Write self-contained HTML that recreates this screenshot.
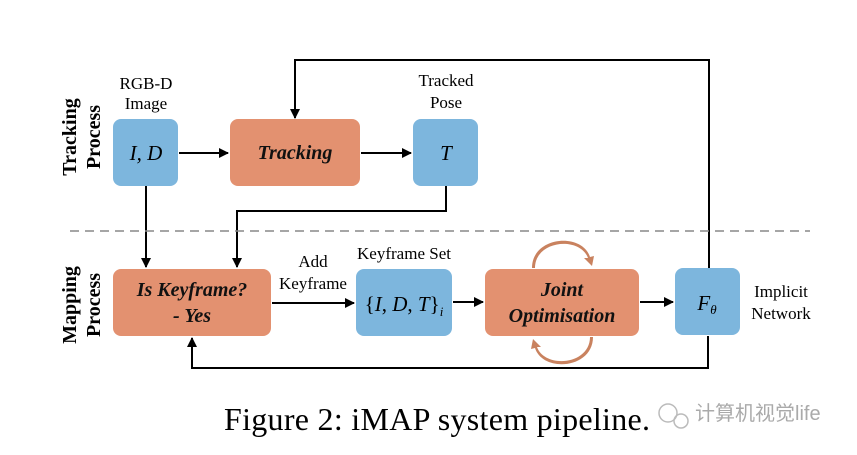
<!DOCTYPE html>
<html><head><style>
body{margin:0;background:#fff;}
svg text{font-family:"Liberation Serif",serif;}
</style></head><body>
<svg width="857" height="450" viewBox="0 0 857 450" xmlns="http://www.w3.org/2000/svg">
<defs>
<marker id="a" markerWidth="10" markerHeight="10" refX="9" refY="5" orient="auto" markerUnits="userSpaceOnUse">
<path d="M0,0 L10,5 L0,10 z" fill="#000"/></marker>
</defs>
<g stroke="#000" stroke-width="2" fill="none">
<line x1="179" y1="153" x2="228" y2="153" marker-end="url(#a)"/>
<line x1="361" y1="153" x2="411" y2="153" marker-end="url(#a)"/>
<polyline points="709,268 709,60 295,60 295,118" marker-end="url(#a)"/>
<line x1="146" y1="186" x2="146" y2="267" marker-end="url(#a)"/>
<polyline points="446,186 446,211 237,211 237,267" marker-end="url(#a)"/>
<line x1="272" y1="303" x2="354" y2="303" marker-end="url(#a)"/>
<line x1="453" y1="302" x2="483" y2="302" marker-end="url(#a)"/>
<line x1="640" y1="302" x2="673" y2="302" marker-end="url(#a)"/>
<polyline points="708,336 708,368 192,368 192,338" marker-end="url(#a)"/>
</g>
<line x1="70" y1="231" x2="810" y2="231" stroke="#888" stroke-width="1.5" stroke-dasharray="9,6"/>
<rect x="113" y="119" width="65" height="67" rx="8" fill="#7db6dd"/>
<rect x="230" y="119" width="130" height="67" rx="8" fill="#e39170"/>
<rect x="413" y="119" width="65" height="67" rx="8" fill="#7db6dd"/>
<rect x="113" y="269" width="158" height="67" rx="8" fill="#e39170"/>
<rect x="356" y="269" width="96" height="67" rx="8" fill="#7db6dd"/>
<rect x="485" y="269" width="154" height="67" rx="8" fill="#e39170"/>
<rect x="675" y="268" width="65" height="67" rx="8" fill="#7db6dd"/>
<path d="M535,268 C535,240 580,236 588,258 L584,258 L592,266 L594,256 L590,257 C582,232 532,236 532,268z" fill="#c9825f"/>
<path d="M590,337 C590,365 545,369 537,347 L541,347 L533,339 L531,349 L535,348 C543,373 593,369 593,337z" fill="#c9825f"/>
<g font-size="17" text-anchor="middle" fill="#000">
<text x="146" y="89">RGB-D</text><text x="146" y="109">Image</text>
<text x="446" y="86">Tracked</text><text x="446" y="108">Pose</text>
<text x="313" y="267">Add</text><text x="313" y="289">Keyframe</text>
<text x="404" y="259">Keyframe Set</text>
<text x="781" y="297">Implicit</text><text x="781" y="319">Network</text>
</g>
<g font-size="21" text-anchor="middle" font-style="italic" fill="#000">
<text x="146" y="160">I, D</text>
<text x="446" y="160">T</text>
<text x="404" y="311" font-style="normal">{<tspan font-style="italic">I</tspan>, <tspan font-style="italic">D</tspan>, <tspan font-style="italic">T</tspan>}<tspan font-size="13" font-style="italic" dy="5">i</tspan></text>
<text x="707" y="310">F<tspan font-size="13" dy="4">θ</tspan></text>
</g>
<g font-size="20" text-anchor="middle" font-style="italic" font-weight="bold" fill="#111">
<text x="295" y="159">Tracking</text>
<text x="192" y="296">Is Keyframe?</text><text x="192" y="322">- Yes</text>
<text x="562" y="296">Joint</text><text x="562" y="322">Optimisation</text>
</g>
<g font-size="20" font-weight="bold" text-anchor="middle" fill="#000">
<text transform="translate(76,137) rotate(-90)">Tracking</text>
<text transform="translate(100,137) rotate(-90)">Process</text>
<text transform="translate(76,305) rotate(-90)">Mapping</text>
<text transform="translate(100,305) rotate(-90)">Process</text>
</g>
<text x="224" y="430" font-size="32" textLength="426" fill="#000">Figure 2: iMAP system pipeline.</text>
<text x="695" y="420" font-size="20" fill="#aaa" style="font-family:'Liberation Sans','Noto Sans CJK SC',sans-serif">计算机视觉life</text>
<circle cx="668" cy="413" r="9" fill="none" stroke="#bbb" stroke-width="1.5"/>
<circle cx="681" cy="421" r="7" fill="none" stroke="#bbb" stroke-width="1.5"/>
</svg>
</body></html>
